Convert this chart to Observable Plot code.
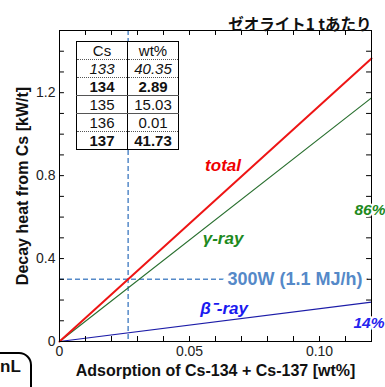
<!DOCTYPE html>
<html>
<head>
<meta charset="utf-8">
<script src="https://cdn.jsdelivr.net/npm/d3@7"></script>
<script src="https://cdn.jsdelivr.net/npm/@observablehq/plot@0.6"></script>
<style>
  body { margin: 0; background: white; }
  #wrap { position: relative; width: 385px; height: 387px; overflow: hidden; font-family: "Liberation Sans", Arial, sans-serif; }
  #tbl { position: absolute; left: 76px; top: 41px; border-collapse: collapse; background: white; border: 1.5px solid #000; }
  #tbl td { width: 50px; height: 17px; padding: 0; text-align: center; font-size: 15px; line-height: 17px; color: #111; }
  #tbl td:first-child { border-right: 1px solid #000; }
  #nl { position: absolute; left: -24px; top: 352px; width: 52px; height: 60px; border: 2px solid #000; border-radius: 13px; background: white; }
  #nltxt { position: absolute; left: 0px; top: 357px; font-weight: bold; font-size: 17px; color: #111; }
</style>
</head>
<body>
<div id="wrap"></div>
<script>
// data
const xVals = [0, 0.12];
const totalHeat = [0, 1.365];
const gammaHeat = [0, 1.175];
const betaHeat = [0, 0.19];
const limitHeat = 0.3;
const limitWt = 0.0264;
const xTicks = [0, 0.05, 0.10];
const xTickLabels = ["0", "0.05", "0.10"];
const yTicks = [0, 0.4, 0.8, 1.2];
const yTickLabels = ["0", "0.4", "0.8", "1.2"];
const xMinor = [0.01, 0.02, 0.03, 0.04, 0.05, 0.06, 0.07, 0.08, 0.09, 0.10, 0.11];
const yMinor = [0.1, 0.2, 0.3, 0.4, 0.5, 0.6, 0.7, 0.8, 0.9, 1.0, 1.1, 1.2, 1.3, 1.4];
const csIsotopes = ["Cs", "133", "134", "135", "136", "137"];
const wtPercent = ["wt%", "40.35", "2.89", "15.03", "0.01", "41.73"];
const rowStyles = ["normal", "italic", "bold", "normal", "normal", "bold"];
const rowBorders = ["1px dotted #555", "1px dotted #555", "1px solid #555", "1px solid #555", "1px dotted #555", "none"];

const lineData = (ys) => xVals.map((x, i) => ({x, y: ys[i]}));
const blue = "#5589c8";

// label drawn on a white halo (separate mark beneath it)
function haloText(label, opts, haloWidth) {
  const base = {text: d => d, ...opts};
  return [
    Plot.text([label], {...base, fill: "white", stroke: "white", strokeWidth: haloWidth, strokeLinejoin: "round"}),
    Plot.text([label], base)
  ];
}

const chart = Plot.plot({
  width: 385, height: 387,
  marginLeft: 59, marginRight: 14, marginTop: 30, marginBottom: 46,
  x: {domain: [0, 0.12]},
  y: {domain: [0, 1.5]},
  style: {fontFamily: "'Liberation Sans', Arial, sans-serif", fontSize: "14px", color: "#222", background: "white", overflow: "visible"},
  marks: [
    Plot.ruleX([limitWt], {stroke: blue, strokeWidth: 1.5, strokeDasharray: "5,3"}),
    Plot.ruleY([limitHeat], {x1: 0, x2: 0.12, stroke: blue, strokeWidth: 1.5, strokeDasharray: "5,3"}),
    Plot.line(lineData(betaHeat), {x: "x", y: "y", stroke: "#1c1ca8", strokeWidth: 1.2}),
    Plot.line(lineData(gammaHeat), {x: "x", y: "y", stroke: "#2a7030", strokeWidth: 1.2}),
    Plot.line(lineData(totalHeat), {x: "x", y: "y", stroke: "#ee1515", strokeWidth: 2}),
    Plot.frame({stroke: "#000", strokeWidth: 1}),
    Plot.ruleX(xMinor, {x: d => d, y1: 0, y2: 0.024, stroke: "#000"}),
    Plot.ruleX(xMinor, {x: d => d, y1: 1.5, y2: 1.476, stroke: "#000"}),
    Plot.ruleY(yMinor, {y: d => d, x1: 0, x2: 0.0019, stroke: "#000"}),
    Plot.ruleY(yMinor, {y: d => d, x1: 0.12, x2: 0.1181, stroke: "#000"}),
    Plot.axisX({ticks: xTicks, tickFormat: d => xTickLabels[xTicks.indexOf(d)], tickSize: 0, tickPadding: 5, label: null, fontSize: 14}),
    Plot.axisY({ticks: yTicks, tickFormat: d => yTickLabels[yTicks.indexOf(d)], tickSize: 0, tickPadding: 4, label: null, fontSize: 14}),
    Plot.text(["total"], {x: 0.0629, y: 0.848, text: d => d, fill: "#ee0000", fontSize: 17, fontWeight: "bold", fontStyle: "italic"}),
    Plot.text(["γ-ray"], {x: 0.0629, y: 0.496, text: d => d, fill: "#1e8a1e", fontSize: 17, fontWeight: "bold", fontStyle: "italic"}),
    Plot.text(["β⁻-ray"], {x: 0.0633, y: 0.159, text: d => d, fill: "#1a1af0", fontSize: 17, fontWeight: "bold", fontStyle: "italic"}),
    ...haloText("86%", {x: 0.1194, y: 0.636, fill: "#1e8a1e", fontSize: 15.5, fontWeight: "bold", fontStyle: "italic"}, 4),
    ...haloText("14%", {x: 0.1190, y: 0.087, fill: "#2424ee", fontSize: 15.5, fontWeight: "bold", fontStyle: "italic"}, 4),
    ...haloText("300W (1.1 MJ/h)", {x: 0.0906, y: limitHeat, fill: blue, fontSize: 18, fontWeight: "bold"}, 10),
    Plot.text(["ゼオライト1 tあたり"], {frameAnchor: "top-right", dy: -12, textAnchor: "end", text: d => d, fontSize: 15.5, fontWeight: "bold", fill: "#111", fontFamily: "'Noto Sans CJK JP', sans-serif"}),
    Plot.text(["Adsorption of Cs-134 + Cs-137 [wt%]"], {frameAnchor: "bottom", dy: 34, text: d => d, fontSize: 16, fontWeight: "bold", fill: "#111"}),
    Plot.text(["Decay heat from Cs [kW/t]"], {frameAnchor: "left", dx: -37, rotate: -90, textAnchor: "middle", text: d => d, fontSize: 16, fontWeight: "bold", fill: "#111"})
  ]
});

const wrap = document.getElementById("wrap");
wrap.appendChild(chart);
chart.style.position = "absolute";
chart.style.left = "0px";
chart.style.top = "0px";

const tbl = document.createElement("table");
tbl.id = "tbl";
csIsotopes.forEach((c, i) => {
  const tr = document.createElement("tr");
  [c, wtPercent[i]].forEach(v => {
    const td = document.createElement("td");
    td.textContent = v;
    const s = rowStyles[i];
    if (s === "italic") td.style.fontStyle = "italic";
    if (s === "bold") td.style.fontWeight = "bold";
    td.style.borderBottom = rowBorders[i];
    tr.appendChild(td);
  });
  tbl.appendChild(tr);
});
wrap.appendChild(tbl);

const nl = document.createElement("div");
nl.id = "nl";
wrap.appendChild(nl);
const nlt = document.createElement("div");
nlt.id = "nltxt";
nlt.textContent = "nL";
wrap.appendChild(nlt);
</script>
</body>
</html>
